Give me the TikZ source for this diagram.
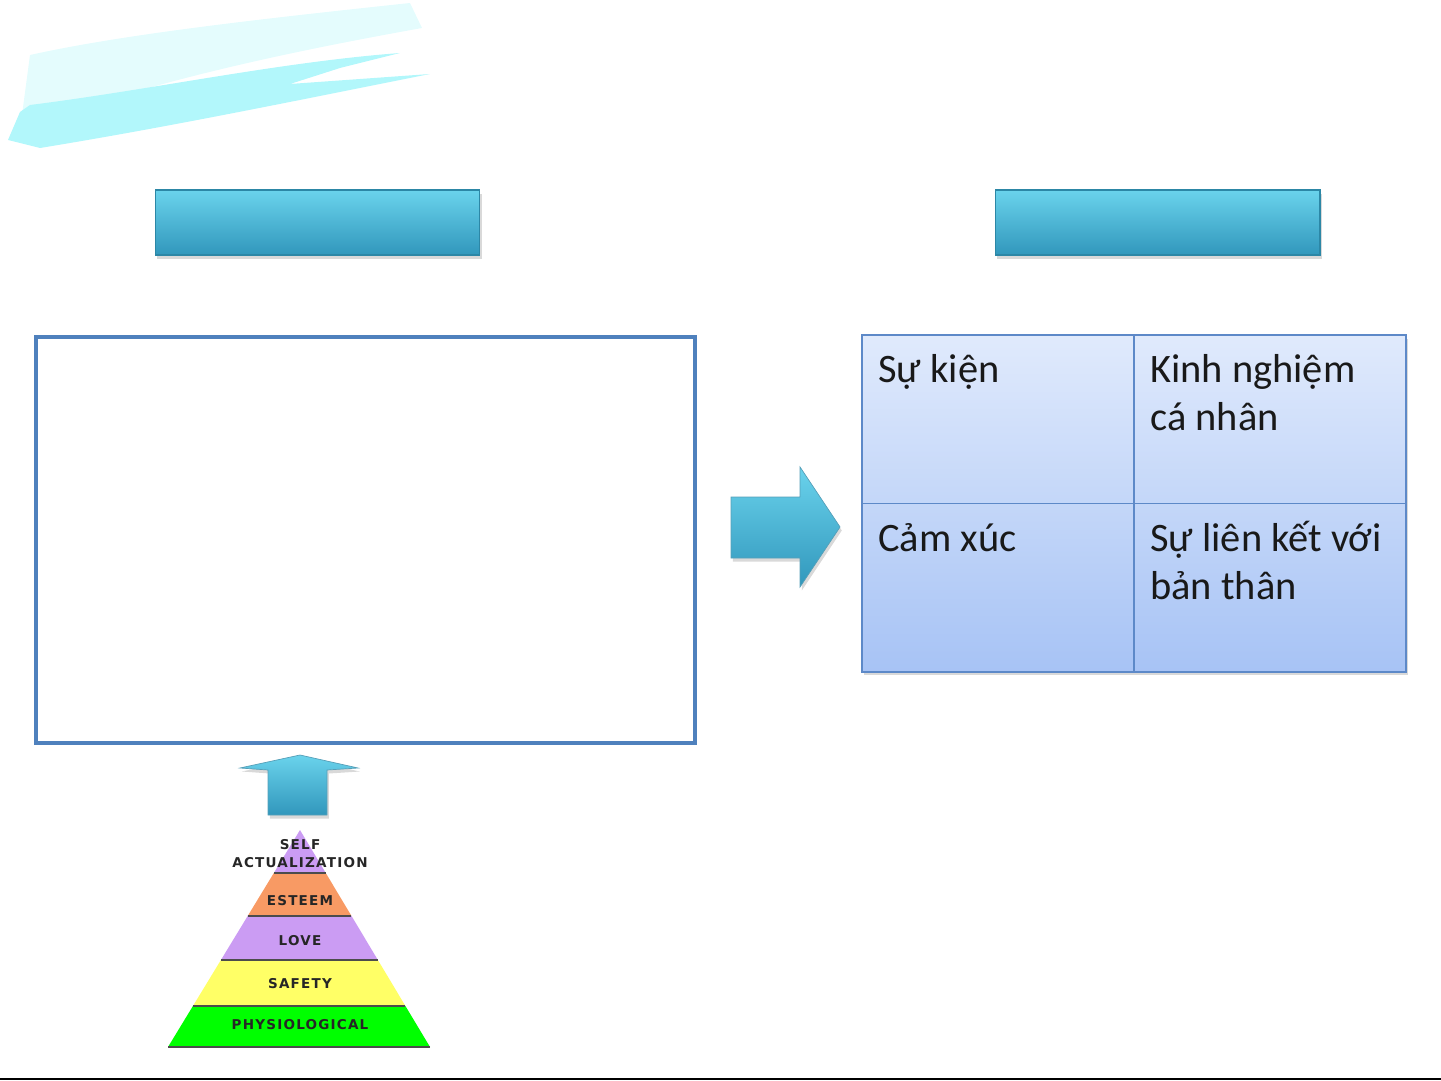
\documentclass[tikz,border=0pt]{standalone}
\usepackage{fontspec}
\setmainfont{Carlito}
\newfontfamily\pyrfont[LetterSpace=9]{DejaVu Sans}
\usetikzlibrary{positioning,calc,shadows}
\definecolor{barTop}{HTML}{6AD3EC}
\definecolor{barBot}{HTML}{3197BC}
\definecolor{barRim}{HTML}{2C87A6}
\definecolor{boxBlue}{HTML}{4F81BD}
\definecolor{tblTop}{HTML}{E0EAFC}
\definecolor{tblBot}{HTML}{A7C3F5}
\definecolor{tblLine}{HTML}{5D89C8}
\definecolor{brushLight}{HTML}{E4FCFD}
\definecolor{brushDark}{HTML}{B2F7FB}
\definecolor{pyrPurple}{HTML}{CB9CF3}
\definecolor{pyrOrange}{HTML}{F89A64}
\definecolor{pyrYellow}{HTML}{FFFF66}
\definecolor{pyrGreen}{HTML}{00FF00}

\begin{document}
\begin{tikzpicture}[x=0.02cm,y=-0.02cm,
   bar/.style={draw=barRim,line width=0.6pt,top color=barTop,bottom color=barBot,
     minimum width=6.5cm,minimum height=1.3cm,inner sep=0,outer sep=0,
     drop shadow={opacity=0.3,shadow xshift=1pt,shadow yshift=-2pt}},
   blockarrow/.style={draw=barRim!80,line width=0.4pt,top color=barTop,bottom color=barBot,
     drop shadow={opacity=0.3,shadow xshift=1pt,shadow yshift=-2pt}},
   cell/.style={anchor=base west,align=left,inner sep=0,text=black!90,
     font=\fontsize{23}{27.2}\selectfont},
   pyr/.style={inner sep=0,text=black!85,font=\pyrfont\bfseries\fontsize{7.7}{8}\selectfont}]
   \useasboundingbox (0,0) rectangle (1441,1081);

   % brush stroke
   \fill[brushLight] (30,55) .. controls (120,35) and (250,20) .. (410,3)
      -- (422,28) .. controls (300,50) and (150,80) .. (20,130) -- cycle;
   \fill[brushDark] (8,140) -- (20,112) -- (30,105) .. controls (150,90) and (280,62) .. (400,53)
      -- (340,68) -- (290,84) -- (430,74) -- (380,84)
      .. controls (250,110) and (150,130) .. (40,148) -- cycle;

   % headings
   \node [bar] (Bar_L) at (317.5,222.5) {};
   \node [bar] (Bar_R) at (1157.5,222.5) {};

   % left box
   \node [draw=boxBlue,line width=2.3pt,inner sep=0,outer sep=0,
      minimum width=13.2cm,minimum height=8.12cm] (Box_L) at (365.5,540) {};

   % table
   \node [draw=tblLine,line width=1.1pt,top color=tblTop,bottom color=tblBot,inner sep=0,
      minimum width=10.88cm,minimum height=6.74cm,
      drop shadow={opacity=0.3,shadow xshift=1pt,shadow yshift=-2pt}] (Tbl) at (1134,503.5) {};
   \draw [tblLine,line width=1pt] (Tbl.north) -- (Tbl.south);
   \draw [tblLine,line width=1pt] (Tbl.west) -- (Tbl.east);
   \node [cell] (C_11) at (878,382) {Sự kiện};
   \node [cell] (C_12) at (1150,430) {Kinh nghiệm\\cá nhân};
   \node [cell] (C_21) at (878,551) {Cảm xúc};
   \node [cell] (C_22) at (1150,599) {Sự liên kết với\\bản thân};

   % arrows
   \draw [blockarrow] (731,497) -- (800,497) -- (800,467) -- (840,527)
      -- (800,587) -- (800,558) -- (731,558) -- cycle;
   \draw [blockarrow] (268,815) -- (268,770) -- (240,768) -- (300,755)
      -- (358,768) -- (327,770) -- (327,815) -- cycle;

   % pyramid
   \coordinate (Apex) at (300,830);
   \coordinate (BL) at (168,1047);
   \coordinate (BR) at (430,1047);
   \foreach \ta/\tb/\col in {0/0.198/pyrPurple,0.198/0.396/pyrOrange,0.396/0.599/pyrPurple,
                             0.599/0.811/pyrYellow,0.811/1/pyrGreen}
      \fill [\col] ($(Apex)!\ta!(BL)$) -- ($(Apex)!\tb!(BL)$) -- ($(Apex)!\tb!(BR)$)
         -- ($(Apex)!\ta!(BR)$) -- cycle;
   \foreach \t in {0.198,0.396,0.599,0.811,1}
      \draw [black!70,line width=0.7pt] ($(Apex)!\t!(BL)$) -- ($(Apex)!\t!(BR)$);
   \node [pyr] (P_self) at (300,845) {SELF};
   \node [pyr] (P_act) at (300,863) {ACTUALIZATION};
   \node [pyr] (P_est) at (300,901) {ESTEEM};
   \node [pyr] (P_love) at (300,941) {LOVE};
   \node [pyr] (P_safe) at (300,984) {SAFETY};
   \node [pyr] (P_phys) at (300,1025) {PHYSIOLOGICAL};

   % bottom rule
   \draw [line width=1.4pt] (0,1079) -- (1441,1079);
\end{tikzpicture}
\end{document}
